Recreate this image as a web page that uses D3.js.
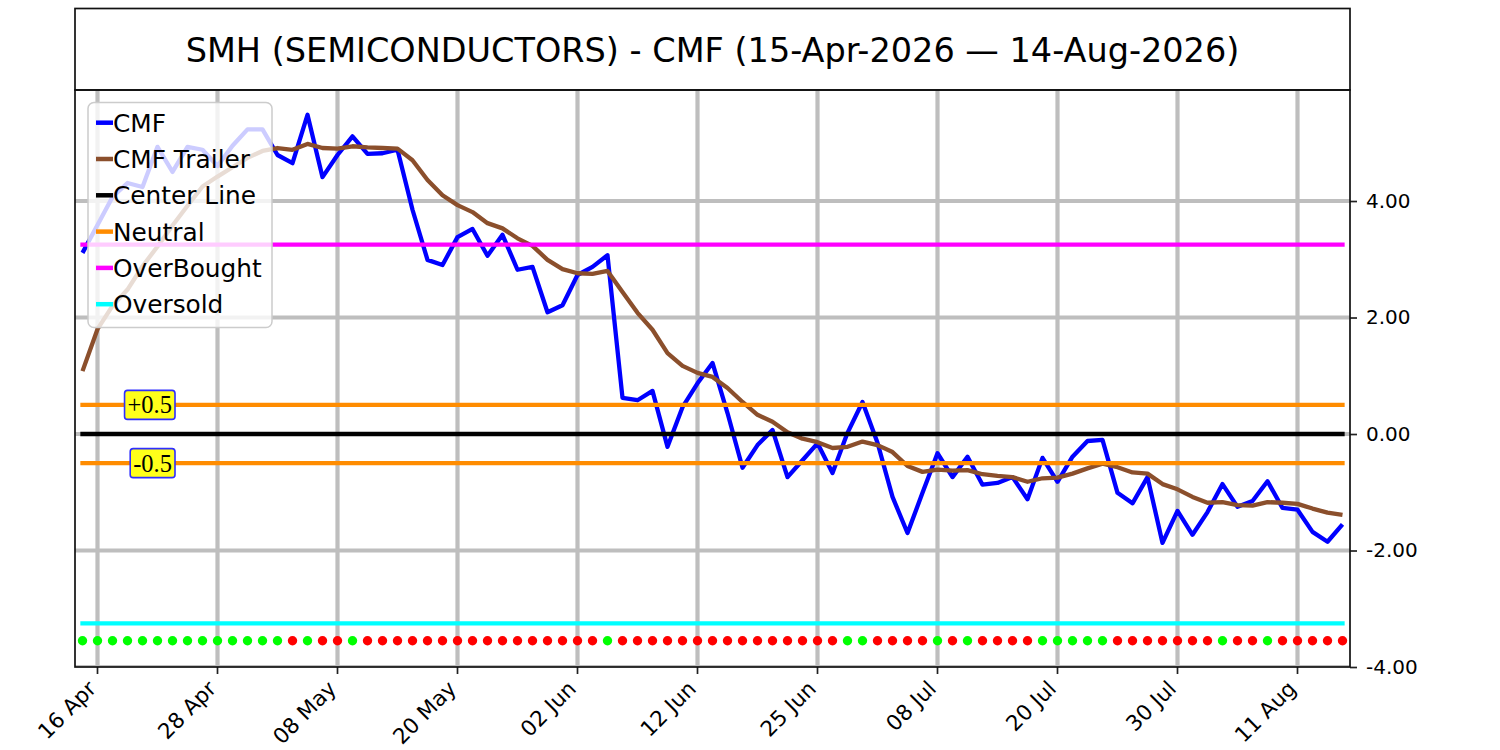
<!DOCTYPE html>
<html>
<head>
<meta charset="utf-8">
<script src="https://cdnjs.cloudflare.com/ajax/libs/d3/7.8.5/d3.min.js"></script>
<style>
  body { margin: 0; background: #fff; }
  svg { display: block; font-family: "DejaVu Sans", sans-serif; }
</style>
</head>
<body>
<div id="chart"></div>
<script>
// trading days shown on the x axis
const dates = [
  "2026-04-15","2026-04-16","2026-04-17","2026-04-20","2026-04-21","2026-04-22","2026-04-23","2026-04-24","2026-04-27","2026-04-28","2026-04-29","2026-04-30",
  "2026-05-01","2026-05-04","2026-05-05","2026-05-06","2026-05-07","2026-05-08","2026-05-11","2026-05-12","2026-05-13","2026-05-14","2026-05-15","2026-05-18","2026-05-19","2026-05-20","2026-05-21","2026-05-22","2026-05-26","2026-05-27","2026-05-28","2026-05-29",
  "2026-06-01","2026-06-02","2026-06-03","2026-06-04","2026-06-05","2026-06-08","2026-06-09","2026-06-10","2026-06-11","2026-06-12","2026-06-15","2026-06-16","2026-06-17","2026-06-18","2026-06-22","2026-06-23","2026-06-24","2026-06-25","2026-06-26","2026-06-29","2026-06-30",
  "2026-07-01","2026-07-02","2026-07-06","2026-07-07","2026-07-08","2026-07-09","2026-07-10","2026-07-13","2026-07-14","2026-07-15","2026-07-16","2026-07-17","2026-07-20","2026-07-21","2026-07-22","2026-07-23","2026-07-24","2026-07-27","2026-07-28","2026-07-29","2026-07-30","2026-07-31",
  "2026-08-03","2026-08-04","2026-08-05","2026-08-06","2026-08-07","2026-08-10","2026-08-11","2026-08-12","2026-08-13","2026-08-14"
];

const cmf = [
  3.11, 3.59, 4.07, 4.31, 4.24, 4.93, 4.50, 4.93, 4.88, 4.60,
  4.95, 5.23, 5.23, 4.79, 4.65, 5.48, 4.41, 4.79, 5.11, 4.81,
  4.82, 4.88, 3.85, 2.99, 2.90, 3.38, 3.52, 3.06, 3.42, 2.82,
  2.87, 2.09, 2.21, 2.73, 2.87, 3.07, 0.62, 0.58, 0.74, -0.22,
  0.46, 0.87, 1.22, 0.36, -0.58, -0.19, 0.07, -0.74, -0.45, -0.16,
  -0.67, 0.02, 0.55, -0.15, -1.08, -1.70, -1.01, -0.33, -0.74, -0.39,
  -0.87, -0.84, -0.74, -1.12, -0.41, -0.82, -0.39, -0.12, -0.10, -1.01,
  -1.19, -0.74, -1.87, -1.32, -1.73, -1.34, -0.86, -1.25, -1.15, -0.81,
  -1.27, -1.30, -1.68, -1.85, -1.55
];

const trailer = [
  1.08, 1.80, 2.20, 2.48, 2.88, 3.22, 3.58, 3.92, 4.25, 4.42,
  4.58, 4.74, 4.86, 4.91, 4.88, 4.98, 4.91, 4.90, 4.94, 4.92,
  4.91, 4.90, 4.70, 4.36, 4.10, 3.93, 3.81, 3.62, 3.53, 3.36,
  3.23, 2.99, 2.83, 2.76, 2.75, 2.80, 2.44, 2.08, 1.79, 1.39,
  1.17, 1.05, 0.98, 0.79, 0.55, 0.33, 0.21, 0.03, -0.08, -0.14,
  -0.24, -0.22, -0.13, -0.19, -0.31, -0.55, -0.65, -0.61, -0.63, -0.62,
  -0.69, -0.72, -0.74, -0.82, -0.76, -0.75, -0.68, -0.59, -0.51, -0.57,
  -0.66, -0.68, -0.86, -0.95, -1.08, -1.18, -1.17, -1.22, -1.23, -1.17,
  -1.18, -1.20, -1.28, -1.35, -1.39
];

// 1 = green dot, 0 = red dot
const signal = [
  1,1,1,1,1,1,1,1,1,1,
  1,1,1,1,0,1,0,0,1,0,
  0,0,0,0,0,0,0,0,0,0,
  0,0,0,0,0,1,0,0,0,0,
  0,0,0,0,0,0,0,0,0,0,
  0,1,1,0,0,0,0,1,0,1,
  0,0,0,0,1,1,1,1,1,0,
  0,0,0,0,0,0,1,0,0,1,
  0,0,0,0,0
];

const tickDates = ["2026-04-16","2026-04-28","2026-05-08","2026-05-20","2026-06-02","2026-06-12",
                   "2026-06-25","2026-07-08","2026-07-20","2026-07-30","2026-08-11"];
const yTicks = [-4, -2, 0, 2, 4];

const refValues = [0, 0.5, -0.5, 3.25, -3.25];
const refColors = ["#000000", "#ff8c00", "#ff8c00", "#ff00ff", "#00ffff"];
const bandLabels = ["+0.5", "-0.5"];
const bandValues = [0.5, -0.5];
const signalLevel = -3.55;

const legendNames = ["CMF", "CMF Trailer", "Center Line", "Neutral", "OverBought", "Oversold"];
const legendColors = ["#0000ff", "#8b4f2c", "#000000", "#ff8c00", "#ff00ff", "#00ffff"];

const title = "SMH (SEMICONDUCTORS) - CMF (15-Apr-2026 \u2014 14-Aug-2026)";

// layout
const W = 1500, H = 750;
const pLeft = 75, pRight = 1350, pTop = 90, pBottom = 667;

const svg = d3.select("#chart").append("svg")
  .attr("width", W)
  .attr("height", H);

const x = d3.scaleBand().domain(dates).range([pLeft, pRight]);
const cx = d => x(d) + x.bandwidth() / 2;
const y = d3.scaleLinear().domain([-4, 5.906]).range([pBottom, pTop]);

svg.append("clipPath").attr("id", "plot")
  .append("rect")
    .attr("x", pLeft).attr("y", pTop)
    .attr("width", pRight - pLeft).attr("height", pBottom - pTop);

const plot = svg.append("g").attr("clip-path", "url(#plot)");

// grid
plot.append("g").selectAll("line")
  .data(tickDates)
  .join("line")
    .attr("x1", cx).attr("x2", cx)
    .attr("y1", pTop).attr("y2", pBottom)
    .attr("stroke", "#bebebe")
    .attr("stroke-width", 4.2);

plot.append("g").selectAll("line")
  .data(yTicks)
  .join("line")
    .attr("x1", pLeft).attr("x2", pRight)
    .attr("y1", d => y(d)).attr("y2", d => y(d))
    .attr("stroke", "#bebebe")
    .attr("stroke-width", 4.2);

const line = d3.line()
  .x((d, i) => cx(dates[i]))
  .y(d => y(d));

plot.append("path")
  .datum(cmf)
  .attr("d", line)
  .attr("fill", "none")
  .attr("stroke", legendColors[0])
  .attr("stroke-width", 4.3)
  .attr("stroke-linejoin", "round");

plot.append("path")
  .datum(trailer)
  .attr("d", line)
  .attr("fill", "none")
  .attr("stroke", legendColors[1])
  .attr("stroke-width", 4.3)
  .attr("stroke-linejoin", "round");

// horizontal reference lines across the data range
const first = dates[0], last = dates[dates.length - 1];
plot.append("g").selectAll("line")
  .data(refValues)
  .join("line")
    .attr("x1", cx(first)).attr("x2", cx(last))
    .attr("y1", d => y(d)).attr("y2", d => y(d))
    .attr("stroke", (d, i) => refColors[i])
    .attr("stroke-width", 4.3)
    .attr("stroke-linecap", "square");

// signal dots
plot.append("g").selectAll("circle")
  .data(signal)
  .join("circle")
    .attr("cx", (d, i) => cx(dates[i]))
    .attr("cy", y(signalLevel))
    .attr("r", 4.7)
    .attr("fill", d => d ? "#00ff00" : "#ff0000");

// +0.5 / -0.5 labels
const band = svg.append("g").selectAll("g")
  .data(bandValues)
  .join("g");

band.append("rect");
band.append("text")
  .attr("x", 172)
  .attr("y", d => y(d) + 8.4)
  .attr("text-anchor", "end")
  .style("font-family", "'Liberation Serif', 'DejaVu Serif', serif")
  .style("font-size", "24.5px")
  .text((d, i) => bandLabels[i]);

band.each(function(d) {
  const g = d3.select(this);
  const bb = g.select("text").node().getBBox();
  g.select("rect")
    .attr("x", bb.x - 3)
    .attr("y", y(d) - 14.5)
    .attr("width", bb.width + 6)
    .attr("height", 29)
    .attr("rx", 3)
    .attr("fill", "#ffff1a")
    .attr("stroke", "#2e2eff")
    .attr("stroke-width", 1.6);
});

// axes
const fmt = d3.timeFormat("%d %b");
const parse = d3.timeParse("%Y-%m-%d");

const xAxis = svg.append("g")
  .attr("transform", `translate(0,${pBottom})`)
  .call(d3.axisBottom(x).tickValues(tickDates).tickFormat(d => fmt(parse(d))).tickSize(7).tickSizeOuter(0));
xAxis.select(".domain").remove();
xAxis.selectAll(".tick line").attr("stroke", "#222").attr("stroke-width", 1.7);
xAxis.selectAll(".tick text")
  .attr("x", null).attr("y", null).attr("dy", null)
  .attr("text-anchor", "end")
  .attr("transform", "translate(0,23) rotate(-45)")
  .attr("fill", "#000")
  .style("font-size", "21.5px")
  .style("font-family", "'DejaVu Sans', sans-serif");

const yAxis = svg.append("g")
  .attr("transform", `translate(${pRight},0)`)
  .call(d3.axisRight(y).tickValues(yTicks).tickFormat(d => d.toFixed(2)).tickSize(7).tickPadding(9).tickSizeOuter(0));
yAxis.select(".domain").remove();
yAxis.selectAll(".tick line").attr("stroke", "#222").attr("stroke-width", 1.7);
yAxis.selectAll(".tick text")
  .attr("fill", "#000")
  .style("font-size", "20px")
  .style("font-family", "'DejaVu Sans', sans-serif");

// frames
svg.append("rect")
  .attr("x", pLeft).attr("y", pTop)
  .attr("width", pRight - pLeft).attr("height", pBottom - pTop)
  .attr("fill", "none").attr("stroke", "#111").attr("stroke-width", 1.7);

svg.append("rect")
  .attr("x", pLeft).attr("y", 8.5)
  .attr("width", pRight - pLeft).attr("height", pTop - 8.5)
  .attr("fill", "none").attr("stroke", "#111").attr("stroke-width", 1.7);

svg.append("text")
  .attr("x", (pLeft + pRight) / 2)
  .attr("y", 61.5)
  .attr("text-anchor", "middle")
  .style("font-size", "33.5px")
  .text(title);

// legend
const legend = svg.append("g");
legend.append("rect")
  .attr("x", 88).attr("y", 102.5)
  .attr("width", 184).attr("height", 225)
  .attr("rx", 6)
  .attr("fill", "#fff").attr("fill-opacity", 0.8)
  .attr("stroke", "#cccccc").attr("stroke-width", 1.5);

const item = legend.selectAll("g.item")
  .data(legendNames)
  .join("g")
    .attr("class", "item")
    .attr("transform", (d, i) => `translate(0,${122.7 + i * 36.3})`);

item.append("line")
  .attr("x1", 96).attr("x2", 113)
  .attr("stroke", (d, i) => legendColors[i])
  .attr("stroke-width", 4.5);

item.append("text")
  .attr("x", 113)
  .attr("y", 8.9)
  .style("font-size", "24.8px")
  .text(d => d);
</script>
</body>
</html>
